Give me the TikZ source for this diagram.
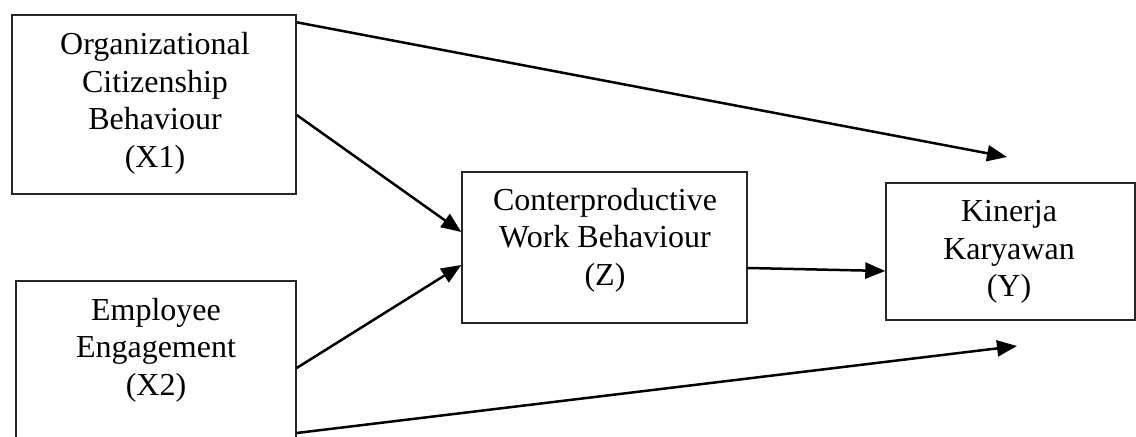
\documentclass[tikz,border=0pt]{standalone}
\usepackage{fontspec}
\setmainfont{Liberation Serif}
\usetikzlibrary{arrows.meta}
\begin{document}
\begin{tikzpicture}[x=0.5pt,y=-0.5pt,
  box/.style={draw=black!85,line width=0.7pt,rectangle,inner sep=0pt},
  lbl/.style={align=center,inner sep=0pt,font=\fontsize{16}{18.75}\selectfont},
  conn/.style={line width=1.25pt,-{Triangle[length=10pt,width=8pt]}}]
\useasboundingbox (0,0) rectangle (1136,437);
\clip (0,0) rectangle (1136,437);
\fill[white] (0,0) rectangle (1136,437);
% boxes
\node[box,minimum width=142pt,minimum height=89.5pt] (x1) at (154,104.5) {};
\node[box,minimum width=140pt,minimum height=100pt] (x2) at (156,381) {};
\node[box,minimum width=142.5pt,minimum height=75.5pt] (z) at (604.5,247.5) {};
\node[box,minimum width=124.5pt,minimum height=68.5pt] (y) at (1010.5,251.5) {};
% texts
\node[lbl] (tx1) at (155,103.5) {Organizational\\Citizenship\\Behaviour\\(X1)};
\node[lbl] (tx2) at (156,350) {Employee\\Engagement\\(X2)};
\node[lbl] (tz) at (605,240) {Conterproductive\\Work Behaviour\\(Z)};
\node[lbl] (ty) at (1009,252) {Kinerja\\Karyawan\\(Y)};
% free ends
\coordinate (t1) at (1007,157);
\coordinate (t5) at (1017,346);
% connectors
\draw[conn] ([yshift=-4pt]x1.north east) -- (t1);
\draw[conn] ([yshift=-5.25pt]x1.east) -- ([yshift=7.75pt]z.west);
\draw[conn] ([yshift=6.5pt]x2.east) -- ([yshift=-8.75pt]z.west);
\draw[conn] ([yshift=-10.25pt]z.east) -- ([yshift=-9.75pt]y.west);
\draw[conn] ([yshift=-26pt]x2.east) -- (t5);
\end{tikzpicture}
\end{document}
